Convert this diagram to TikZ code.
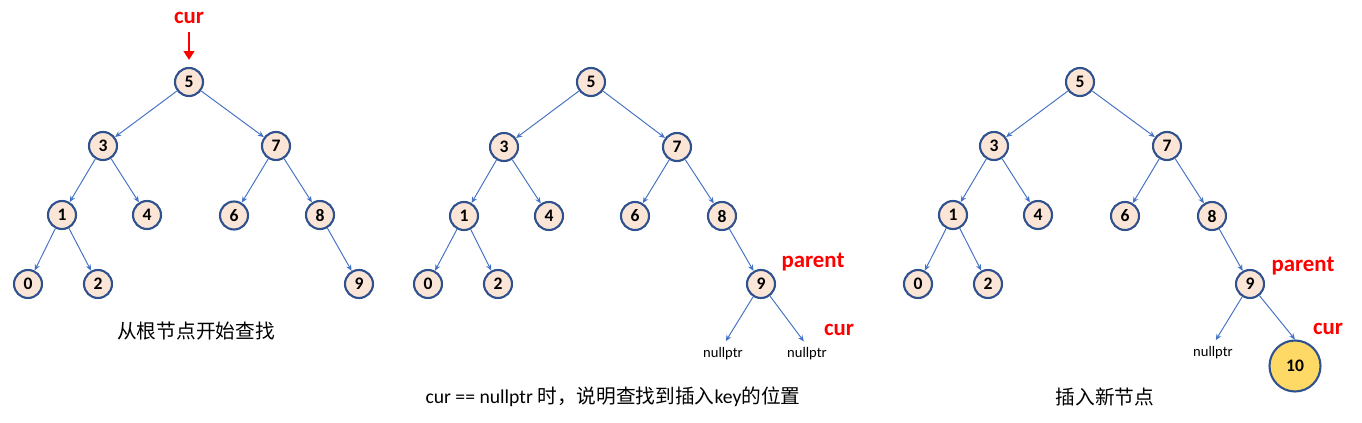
\documentclass[tikz,border=0pt]{standalone}
\usepackage{fontspec}
\setmainfont{Carlito}
\newfontfamily\cjk{Noto Sans CJK SC}
\definecolor{bstfill}{RGB}{251, 229, 214}
\definecolor{bstline}{RGB}{47, 82, 143}
\definecolor{edgeblue}{RGB}{68, 114, 196}
\definecolor{newfill}{RGB}{255, 217, 102}
\definecolor{curred}{RGB}{255, 0, 0}
\usetikzlibrary{arrows.meta, positioning}

\begin{document}
\begin{tikzpicture}[
    bstnode/.style={circle, draw=bstline, fill=bstfill, line width=1.2pt, minimum size=0.56cm, inner sep=0pt, font=\fontsize{10}{12}\selectfont\bfseries},
    newnode/.style={bstnode, fill=newfill, minimum size=1.02cm},
    redlabel/.style={text=curred, font=\fontsize{13}{15}\selectfont\bfseries},
    nulltxt/.style={font=\fontsize{8.3}{10}\selectfont, inner sep=1pt},
    caption/.style={font=\fontsize{11.2}{13}\selectfont},
    edge/.style={draw=edgeblue, line width=0.55pt, -{Stealth[length=3.5pt, width=3pt]}}
  ]
  \useasboundingbox (0, 0) rectangle (27.24, -8.46);

  % Panel 1: start at the root
  \node[bstnode] (a5) at (3.78, -1.64) {5};
  \node[bstnode] (a3) at (2.06, -2.92) {3};
  \node[bstnode] (a7) at (5.52, -2.92) {7};
  \node[bstnode] (a1) at (1.24, -4.30) {1};
  \node[bstnode] (a4) at (2.94, -4.30) {4};
  \node[bstnode] (a6) at (4.68, -4.31) {6};
  \node[bstnode] (a8) at (6.40, -4.30) {8};
  \node[bstnode] (a0) at (0.56, -5.68) {0};
  \node[bstnode] (a2) at (1.96, -5.68) {2};
  \node[bstnode] (a9) at (7.18, -5.68) {9};
  \node[redlabel] (acur) at (3.78, -0.36) {cur};
  \draw[curred, line width=1.5pt, -{Triangle[length=5pt, width=6pt]}, shorten <=1pt, shorten >=4pt] (acur.south) -- (a5.north);
  \draw[edge] (a5) -- (a3);
  \draw[edge] (a5) -- (a7);
  \draw[edge] (a3) -- (a1);
  \draw[edge] (a3) -- (a4);
  \draw[edge] (a7) -- (a6);
  \draw[edge] (a7) -- (a8);
  \draw[edge] (a1) -- (a0);
  \draw[edge] (a1) -- (a2);
  \draw[edge] (a8) -- (a9);
  \node[caption] (acap) at (3.92, -6.62) {\cjk 从根节点开始查找};

  % Panel 2: cur reaches nullptr
  \node[bstnode] (b5) at (11.82, -1.64) {5};
  \node[bstnode] (b3) at (10.08, -2.94) {3};
  \node[bstnode] (b7) at (13.54, -2.94) {7};
  \node[bstnode] (b1) at (9.28, -4.32) {1};
  \node[bstnode] (b4) at (10.98, -4.32) {4};
  \node[bstnode] (b6) at (12.70, -4.32) {6};
  \node[bstnode] (b8) at (14.44, -4.32) {8};
  \node[bstnode] (b0) at (8.56, -5.68) {0};
  \node[bstnode] (b2) at (9.96, -5.68) {2};
  \node[bstnode] (b9) at (15.22, -5.68) {9};
  \node[nulltxt] (bnl) at (14.46, -7.08) {nullptr};
  \node[nulltxt] (bnr) at (16.14, -7.08) {nullptr};
  \node[redlabel] (bpar) at (16.26, -5.24) {parent};
  \node[redlabel] (bcur) at (16.78, -6.60) {cur};
  \draw[edge] (b5) -- (b3);
  \draw[edge] (b5) -- (b7);
  \draw[edge] (b3) -- (b1);
  \draw[edge] (b3) -- (b4);
  \draw[edge] (b7) -- (b6);
  \draw[edge] (b7) -- (b8);
  \draw[edge] (b1) -- (b0);
  \draw[edge] (b1) -- (b2);
  \draw[edge] (b8) -- (b9);
  \draw[edge, shorten >=3pt] (b9) -- (bnl.north);
  \draw[edge, shorten >=3pt] (b9) -- (bnr.north);
  \node[caption] (bcap) at (12.26, -7.94) {cur == nullptr {\cjk 时，说明查找到插入}key{\cjk 的位置}};

  % Panel 3: insert the new node
  \node[bstnode] (c5) at (21.60, -1.64) {5};
  \node[bstnode] (c3) at (19.88, -2.92) {3};
  \node[bstnode] (c7) at (23.34, -2.92) {7};
  \node[bstnode] (c1) at (19.06, -4.30) {1};
  \node[bstnode] (c4) at (20.76, -4.30) {4};
  \node[bstnode] (c6) at (22.50, -4.32) {6};
  \node[bstnode] (c8) at (24.24, -4.32) {8};
  \node[bstnode] (c0) at (18.36, -5.68) {0};
  \node[bstnode] (c2) at (19.76, -5.68) {2};
  \node[bstnode] (c9) at (25.00, -5.68) {9};
  \node[nulltxt] (cnl) at (24.26, -7.06) {nullptr};
  \node[newnode] (c10) at (25.90, -7.32) {10};
  \node[redlabel] (cpar) at (26.06, -5.32) {parent};
  \node[redlabel] (ccur) at (26.56, -6.58) {cur};
  \draw[edge] (c5) -- (c3);
  \draw[edge] (c5) -- (c7);
  \draw[edge] (c3) -- (c1);
  \draw[edge] (c3) -- (c4);
  \draw[edge] (c7) -- (c6);
  \draw[edge] (c7) -- (c8);
  \draw[edge] (c1) -- (c0);
  \draw[edge] (c1) -- (c2);
  \draw[edge] (c8) -- (c9);
  \draw[edge, shorten >=3pt] (c9) -- (cnl.north);
  \draw[edge] (c9) -- (c10.north);
  \node[caption] (ccap) at (22.10, -7.94) {\cjk 插入新节点};
\end{tikzpicture}
\end{document}
